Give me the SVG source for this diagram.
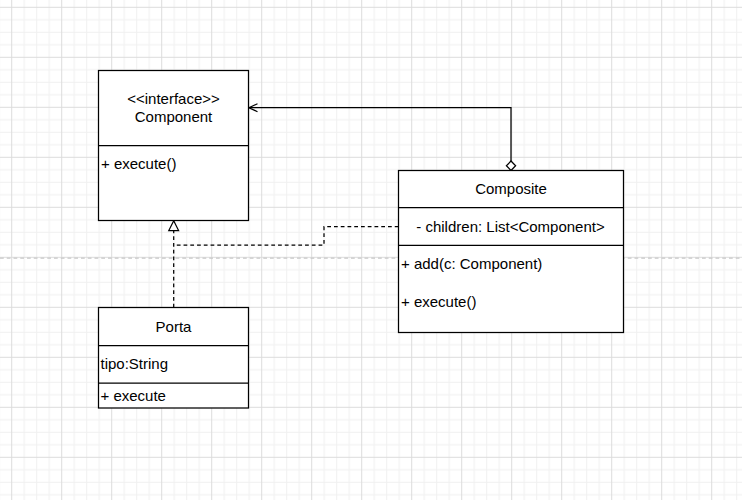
<svg xmlns="http://www.w3.org/2000/svg" width="742" height="500" viewBox="0 0 742 500">
  <defs>
    <pattern id="grid" patternUnits="userSpaceOnUse" x="11.2" y="6.8" width="50" height="50">
      <rect x="12.5" y="0" width="1" height="50" fill="#f0f0f0"/>
      <rect x="25" y="0" width="1" height="50" fill="#f0f0f0"/>
      <rect x="37.5" y="0" width="1" height="50" fill="#f0f0f0"/>
      <rect x="0" y="12.5" width="50" height="1" fill="#f0f0f0"/>
      <rect x="0" y="25" width="50" height="1" fill="#f0f0f0"/>
      <rect x="0" y="37.5" width="50" height="1" fill="#f0f0f0"/>
      <rect x="0" y="0" width="1" height="50" fill="#dcdcdc"/>
      <rect x="0" y="0" width="50" height="1" fill="#dcdcdc"/>
    </pattern>
    <marker id="openArrow" markerUnits="userSpaceOnUse" viewBox="0 0 12 10" refX="10.5" refY="5" markerWidth="12" markerHeight="10" orient="auto">
      <path d="M2,1 L10.5,5 L2,9" fill="none" stroke="#000" stroke-width="1.25"/>
    </marker>
  </defs>
  <style>
    .box { fill: #ffffff; stroke: #000000; stroke-width: 1.25; }
    .div { stroke: #000000; stroke-width: 1.25; fill: none; }
    .t { font-family: "Liberation Sans", Arial, sans-serif; font-size: 15px; fill: #000000; }
    .c { text-anchor: middle; }
    .edge { fill: none; stroke: #000000; stroke-width: 1.25; }
    .dash { stroke-dasharray: 3.75 3; }
  </style>
  <rect x="0" y="0" width="742" height="500" fill="#ffffff"/>
  <rect x="0" y="0" width="742" height="500" fill="url(#grid)"/>
  <line x1="0" y1="258" x2="742" y2="258" stroke="#c8c8c8" stroke-width="1.25" stroke-dasharray="3.75 3"/>

  <g id="connectors">
    <path class="edge" d="M511,161 L511,107.7 L249,107.7" marker-end="url(#openArrow)"/>
    <polygon points="511,170.5 515.6,165.8 511,161 506.4,165.8" fill="#ffffff" stroke="#000" stroke-width="1.25"/>
    <path class="edge dash" d="M173.7,307.5 L173.7,230.5"/>
    <polygon points="173.7,220.8 178.6,230.5 168.8,230.5" fill="#ffffff" stroke="#000" stroke-width="1.25"/>
    <path class="edge dash" d="M398.5,226.7 L324,226.7 L324,245 L173.7,245"/>
  </g>

  <g id="component">
    <rect class="box" x="98.5" y="70.5" width="150" height="150"/>
    <line class="div" x1="98.5" y1="145.5" x2="248.5" y2="145.5"/>
    <text class="t c" x="173.5" y="104">&lt;&lt;interface&gt;&gt;</text>
    <text class="t c" x="173.5" y="122">Component</text>
    <text class="t" x="101" y="169">+ execute()</text>
  </g>

  <g id="composite">
    <rect class="box" x="398.5" y="170.5" width="225" height="162"/>
    <line class="div" x1="398.5" y1="207.7" x2="623.5" y2="207.7"/>
    <line class="div" x1="398.5" y1="245.3" x2="623.5" y2="245.3"/>
    <text class="t c" x="511" y="194">Composite</text>
    <text class="t c" x="510.5" y="232">- children: List&lt;Component&gt;</text>
    <text class="t" x="401" y="269">+ add(c: Component)</text>
    <text class="t" x="401" y="307">+ execute()</text>
  </g>

  <g id="porta">
    <rect class="box" x="98.5" y="307.5" width="150" height="100.5"/>
    <line class="div" x1="98.5" y1="345.7" x2="248.5" y2="345.7"/>
    <line class="div" x1="98.5" y1="383" x2="248.5" y2="383"/>
    <text class="t c" x="173.5" y="332">Porta</text>
    <text class="t" x="100.5" y="369">tipo:String</text>
    <text class="t" x="100.5" y="401">+ execute</text>
  </g>
</svg>
